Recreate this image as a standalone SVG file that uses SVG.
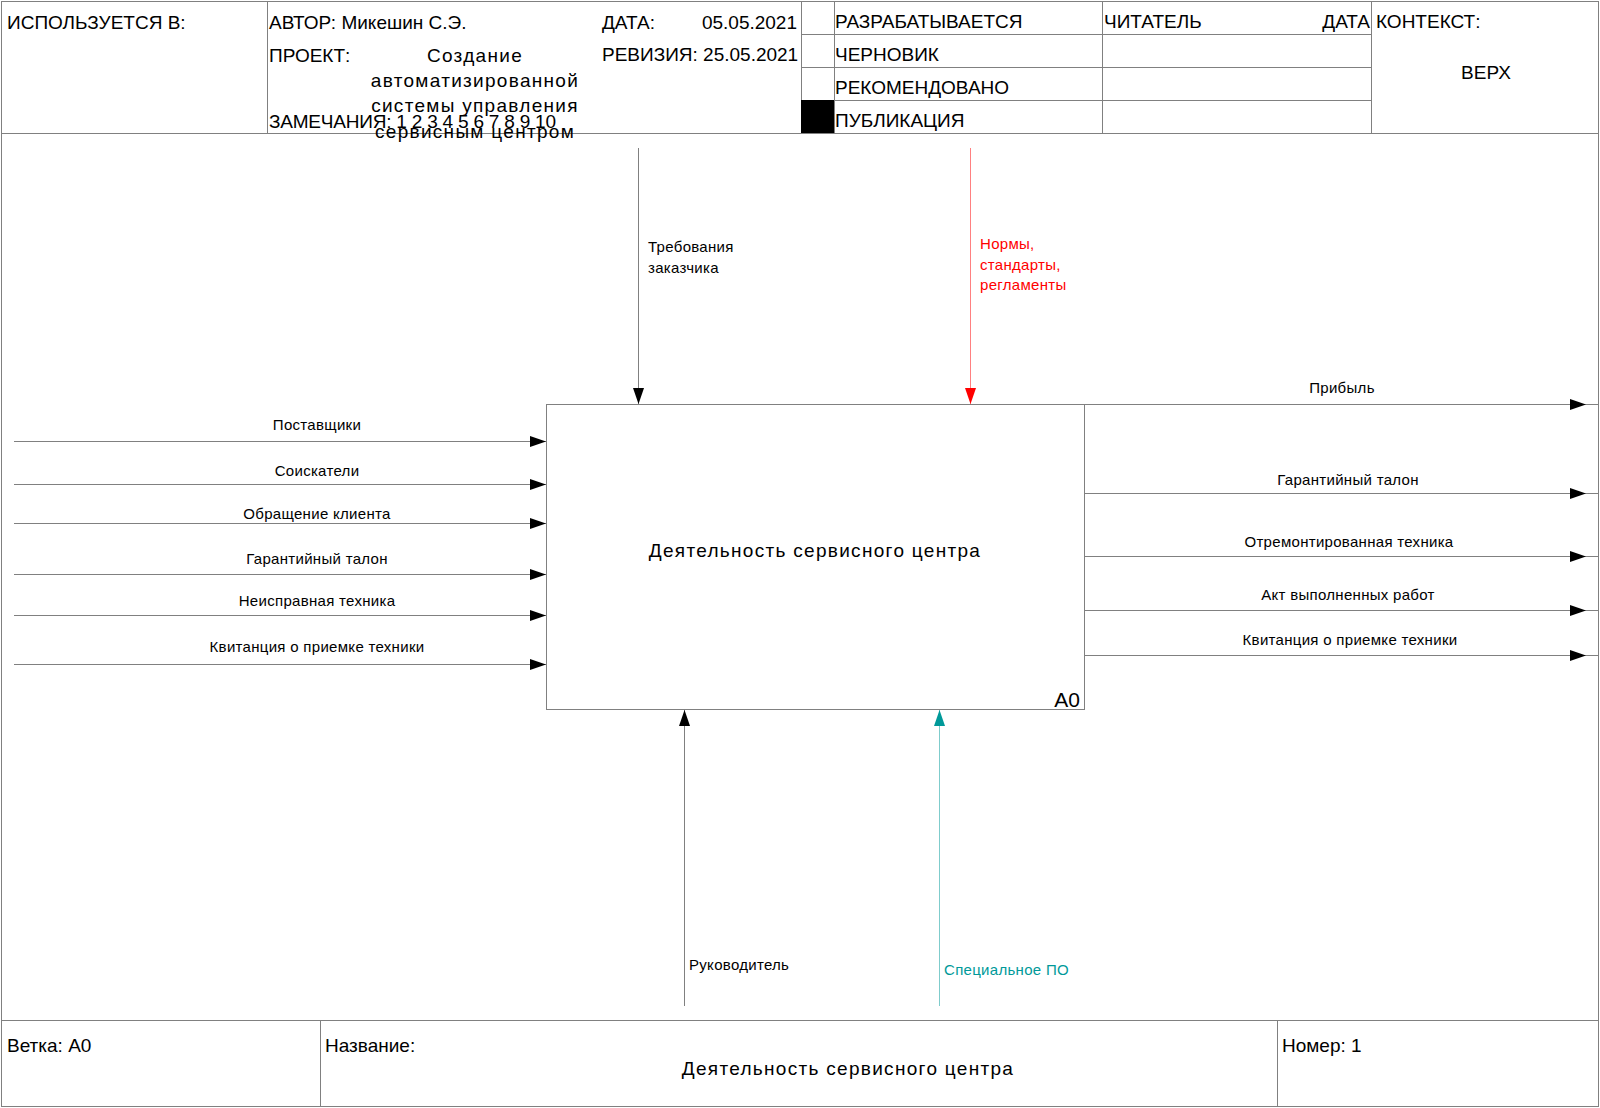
<svg xmlns="http://www.w3.org/2000/svg" width="1600" height="1108" viewBox="0 0 1600 1108">
<defs>
<style>
text{font-family:"Liberation Sans",Arial,sans-serif;fill:#000}
.h{font-size:19px}
.l{font-size:15px;letter-spacing:0.3px}
.t{font-size:19px;letter-spacing:1.3px}
.fr{fill:none;stroke:#808080;stroke-width:1}
.c{fill:none;stroke:#808080;stroke-width:1}
.cr{fill:none;stroke:#ff8080;stroke-width:1}
.ct{fill:none;stroke:#7fcccc;stroke-width:1}
</style>
<marker id="ab" markerUnits="userSpaceOnUse" markerWidth="16" markerHeight="12" refX="16" refY="6" orient="auto"><path d="M0,0.5 L16,6 L0,11.5 z" fill="#000"/></marker>
<marker id="ar" markerUnits="userSpaceOnUse" markerWidth="16" markerHeight="12" refX="16" refY="6" orient="auto"><path d="M0,0.5 L16,6 L0,11.5 z" fill="#ff0000"/></marker>
<marker id="at" markerUnits="userSpaceOnUse" markerWidth="16" markerHeight="12" refX="16" refY="6" orient="auto"><path d="M0,0.5 L16,6 L0,11.5 z" fill="#009999"/></marker>
</defs>
<rect x="0" y="0" width="1600" height="1108" fill="#fff"/>
<g id="frame">
<rect class="fr" x="1.5" y="1.5" width="1597" height="1105"/>
<line class="fr" x1="1" y1="133.5" x2="1599" y2="133.5"/>
<line class="fr" x1="267.5" y1="1" x2="267.5" y2="133"/>
<line class="fr" x1="801.5" y1="1" x2="801.5" y2="133"/>
<line class="fr" x1="834.5" y1="1" x2="834.5" y2="133"/>
<line class="fr" x1="1102.5" y1="1" x2="1102.5" y2="133"/>
<line class="fr" x1="1371.5" y1="1" x2="1371.5" y2="133"/>
<line class="fr" x1="801" y1="34.5" x2="1371" y2="34.5"/>
<line class="fr" x1="801" y1="67.5" x2="1371" y2="67.5"/>
<line class="fr" x1="801" y1="100.5" x2="1371" y2="100.5"/>
<rect x="801" y="100" width="33" height="33" fill="#000"/>
<line class="fr" x1="1" y1="1020.5" x2="1599" y2="1020.5"/>
<line class="fr" x1="320.5" y1="1020" x2="320.5" y2="1107"/>
<line class="fr" x1="1277.5" y1="1020" x2="1277.5" y2="1107"/>
</g>
<g id="header-text">
<text class="h" x="7" y="29">ИСПОЛЬЗУЕТСЯ В:</text>
<text class="h" x="269" y="29">АВТОР: Микешин С.Э.</text>
<text class="h" x="269" y="62">ПРОЕКТ:</text>
<text class="h" x="269" y="128" textLength="287" lengthAdjust="spacing">ЗАМЕЧАНИЯ: 1 2 3 4 5 6 7 8 9 10</text>
<text class="h" x="602" y="29">ДАТА:</text>
<text class="h" x="797" y="29" text-anchor="end">05.05.2021</text>
<text class="h" x="602" y="61">РЕВИЗИЯ: 25.05.2021</text>
<text class="t" x="475" y="62" text-anchor="middle">Создание</text>
<text class="t" x="475" y="87" text-anchor="middle">автоматизированной</text>
<text class="t" x="475" y="112" text-anchor="middle">системы управления</text>
<text class="t" x="475" y="138" text-anchor="middle">сервисным центром</text>
<text class="h" x="835" y="28">РАЗРАБАТЫВАЕТСЯ</text>
<text class="h" x="835" y="61">ЧЕРНОВИК</text>
<text class="h" x="835" y="94">РЕКОМЕНДОВАНО</text>
<text class="h" x="835" y="127">ПУБЛИКАЦИЯ</text>
<text class="h" x="1104" y="28">ЧИТАТЕЛЬ</text>
<text class="h" x="1370" y="28" text-anchor="end">ДАТА</text>
<text class="h" x="1376" y="28">КОНТЕКСТ:</text>
<text class="h" x="1486" y="79" text-anchor="middle">ВЕРХ</text>
</g>
<g id="footer-text">
<text class="h" x="7" y="1052">Ветка: А0</text>
<text class="h" x="325" y="1052">Название:</text>
<text class="t" x="848" y="1075" text-anchor="middle">Деятельность сервисного центра</text>
<text class="h" x="1282" y="1052">Номер: 1</text>
</g>
<g id="A0">
<rect x="546.5" y="404.5" width="538" height="305" fill="#fff" stroke="#808080" stroke-width="1"/>
<text class="t" x="815" y="557" text-anchor="middle">Деятельность сервисного центра</text>
<text x="1080" y="707" text-anchor="end" style="font-size:21px">А0</text>
</g>
<g id="connectors">
<line class="c" x1="14" y1="441.5" x2="546" y2="441.5" marker-end="url(#ab)"/>
<line class="c" x1="14" y1="484.5" x2="546" y2="484.5" marker-end="url(#ab)"/>
<line class="c" x1="14" y1="523.5" x2="546" y2="523.5" marker-end="url(#ab)"/>
<line class="c" x1="14" y1="574.5" x2="546" y2="574.5" marker-end="url(#ab)"/>
<line class="c" x1="14" y1="615.5" x2="546" y2="615.5" marker-end="url(#ab)"/>
<line class="c" x1="14" y1="664.5" x2="546" y2="664.5" marker-end="url(#ab)"/>
<line class="c" x1="1085" y1="404.5" x2="1586" y2="404.5" marker-end="url(#ab)"/>
<line class="c" x1="1586" y1="404.5" x2="1599" y2="404.5"/>
<line class="c" x1="1085" y1="493.5" x2="1586" y2="493.5" marker-end="url(#ab)"/>
<line class="c" x1="1586" y1="493.5" x2="1599" y2="493.5"/>
<line class="c" x1="1085" y1="556.5" x2="1586" y2="556.5" marker-end="url(#ab)"/>
<line class="c" x1="1586" y1="556.5" x2="1599" y2="556.5"/>
<line class="c" x1="1085" y1="610.5" x2="1586" y2="610.5" marker-end="url(#ab)"/>
<line class="c" x1="1586" y1="610.5" x2="1599" y2="610.5"/>
<line class="c" x1="1085" y1="655.5" x2="1586" y2="655.5" marker-end="url(#ab)"/>
<line class="c" x1="1586" y1="655.5" x2="1599" y2="655.5"/>
<line class="c" x1="638.5" y1="148" x2="638.5" y2="404" marker-end="url(#ab)"/>
<line class="cr" x1="970.5" y1="148" x2="970.5" y2="404" marker-end="url(#ar)"/>
<line class="c" x1="684.5" y1="1006" x2="684.5" y2="710" marker-end="url(#ab)"/>
<line class="ct" x1="939.5" y1="1006" x2="939.5" y2="710" marker-end="url(#at)"/>
<text class="l" x="317" y="430" text-anchor="middle">Поставщики</text>
<text class="l" x="317" y="476" text-anchor="middle">Соискатели</text>
<text class="l" x="317" y="519" text-anchor="middle">Обращение клиента</text>
<text class="l" x="317" y="564" text-anchor="middle">Гарантийный талон</text>
<text class="l" x="317" y="606" text-anchor="middle">Неисправная техника</text>
<text class="l" x="317" y="652" text-anchor="middle">Квитанция о приемке техники</text>
<text class="l" x="1342" y="393" text-anchor="middle">Прибыль</text>
<text class="l" x="1348" y="485" text-anchor="middle">Гарантийный талон</text>
<text class="l" x="1349" y="547" text-anchor="middle">Отремонтированная техника</text>
<text class="l" x="1348" y="600" text-anchor="middle">Акт выполненных работ</text>
<text class="l" x="1350" y="645" text-anchor="middle">Квитанция о приемке техники</text>
<text class="l" x="648" y="252">Требования</text>
<text class="l" x="648" y="273">заказчика</text>
<text class="l" x="980" y="249" style="fill:#ff0000">Нормы,</text>
<text class="l" x="980" y="270" style="fill:#ff0000">стандарты,</text>
<text class="l" x="980" y="290" style="fill:#ff0000">регламенты</text>
<text class="l" x="689" y="970">Руководитель</text>
<text class="l" x="944" y="975" style="fill:#009999">Специальное ПО</text>
</g>
</svg>
